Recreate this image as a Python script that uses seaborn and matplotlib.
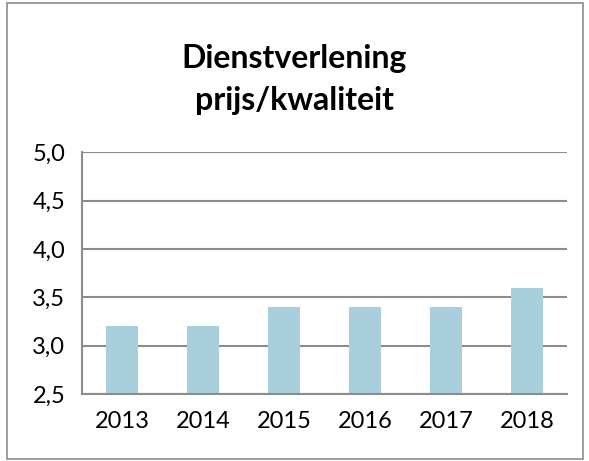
import matplotlib
matplotlib.use("Agg")
import matplotlib.pyplot as plt
import seaborn as sns
import numpy as np
import pandas as pd
from matplotlib.patches import Rectangle
from matplotlib.ticker import FixedLocator, FuncFormatter

years = ["2013", "2014", "2015", "2016", "2017", "2018"]
scores = [3.2, 3.2, 3.4, 3.4, 3.4, 3.6]
yticks = [2.5, 3.0, 3.5, 4.0, 4.5, 5.0]
title = "Dienstverlening\nprijs/kwaliteit"

sns.set_style("white")
plt.rcParams['font.family'] = ['Lato', 'DejaVu Sans']
plt.rcParams['text.color'] = 'black'

df = pd.DataFrame({"jaar": years, "score": scores})

fig = plt.figure(figsize=(5.89, 4.61), dpi=100)
ax = fig.add_axes([0.139, 0.145, 0.824, 0.525])

grey = "#8c8c8c"
ax.set_axisbelow(True)
for y in yticks:
    ax.axhline(y, color=grey, lw=1.5, zorder=0)

sns.barplot(data=df, x="jaar", y="score", color="#A9CFDC", width=0.4,
            saturation=1, ax=ax, zorder=2, linewidth=0)
ax.set_ylim(2.5, 5.0)
ax.set_xlim(-0.5, 5.5)
ax.set_yticks(yticks)
ax.yaxis.set_major_formatter(FuncFormatter(lambda v, p: f"{v:.1f}".replace(".", ",")))
ax.set_xlabel("")
ax.set_ylabel("")
ax.xaxis.set_minor_locator(FixedLocator(np.arange(-0.5, 6, 1)))
ax.tick_params(axis="x", which="major", length=0, labelsize=17, pad=12, labelcolor="black")
ax.tick_params(axis="x", which="minor", length=7, width=1.5, color=grey, direction="out")
ax.tick_params(axis="y", length=7, width=1.5, color=grey, direction="out", labelsize=17,
               pad=5, labelcolor="black")
for s in ["top", "right"]:
    ax.spines[s].set_visible(False)
for s in ["left", "bottom"]:
    ax.spines[s].set_color(grey)
    ax.spines[s].set_linewidth(1.5)

fig.text(0.5, 0.828, title, ha="center", va="center", fontsize=23,
         fontweight="bold", linespacing=1.55, color="black")

fig.patches.append(Rectangle((0.012, 0.004), 0.978, 0.99, transform=fig.transFigure,
                             fill=False, edgecolor="#8c8c8c", lw=1.2))

fig.savefig("out.png", dpi=100)
